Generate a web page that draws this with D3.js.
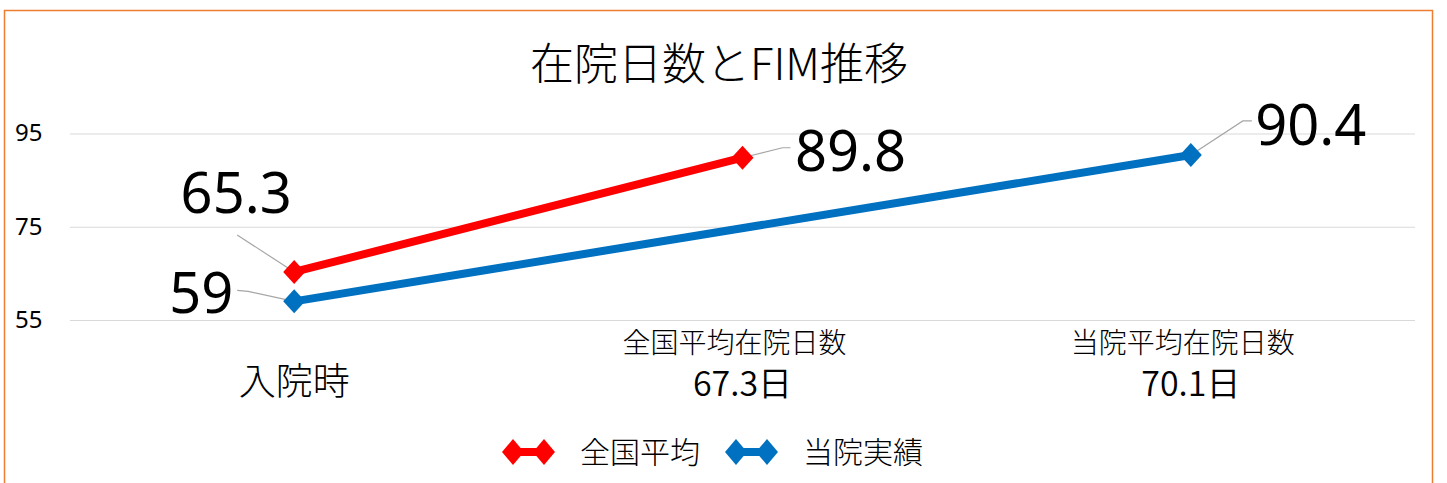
<!DOCTYPE html>
<html>
<head>
<meta charset="utf-8">
<script src="https://cdn.jsdelivr.net/npm/d3@7"></script>
<style>
  body { margin: 0; background: #fff; }
  svg { display: block; }
  text { font-family: "Noto Sans CJK JP", "Noto Sans", sans-serif; fill: #000; }
  .thin { font-weight: 300; }
  .demi { font-weight: 350; }
</style>
</head>
<body>
<svg id="chart" width="1447" height="483"></svg>
<script>
let chart_title = '在院日数とFIM推移';
let categories = ['入院時', '全国平均在院日数', '当院平均在院日数'];
let category_days = ['', '67.3日', '70.1日'];
let y_ticks = [55, 75, 95];

let series_names = ['全国平均', '当院実績'];
let national_values = [65.3, 89.8];        // 入院時, 全国平均在院日数
let hospital_values = [59, null, 90.4];    // 入院時, -, 当院平均在院日数
let series_colors = ['#ff0000', '#0070c0'];

let margin = {left: 70, right: 32, top: 133.5, bottom: 163};
let width = 1447, height = 483;

let svg = d3.select('#chart');

// outer frame
svg.append('rect')
  .attr('x', 4.5).attr('y', 10.5)
  .attr('width', 1428).attr('height', 520)
  .attr('fill', 'none')
  .attr('stroke', '#ed7d31')
  .attr('stroke-width', 1.5);

let x = d3.scaleBand()
  .domain(categories)
  .range([margin.left, width - margin.right]);

let y = d3.scaleLinear()
  .domain([55, 95])
  .range([height - margin.bottom, margin.top]);

// title
svg.append('text')
  .attr('class', 'thin')
  .attr('x', 719).attr('y', 80)
  .attr('text-anchor', 'middle')
  .style('font-size', '44px')
  .text(chart_title);

// grid
let grid = svg.append('g')
  .attr('transform', `translate(${margin.left},0)`)
  .call(d3.axisLeft(y).tickValues(y_ticks).tickSize(-(width - margin.left - margin.right)).tickFormat(''));
grid.select('.domain').remove();
grid.selectAll('line').attr('stroke', '#d9d9d9').attr('stroke-width', 1.2);

// y tick labels
svg.selectAll('.y-label')
  .data(y_ticks)
  .enter().append('text')
  .attr('class', 'y-label')
  .attr('x', 15)
  .attr('y', d => y(d))
  .attr('dy', '0.33em')
  .style('font-family', '"Noto Sans", sans-serif')
  .style('font-size', '24px')
  .text(d => d);

// category labels
let cx = d => x(d) + x.bandwidth() / 2;
svg.append('text')
  .attr('class', 'thin')
  .attr('x', cx(categories[0])).attr('y', 395)
  .attr('text-anchor', 'middle')
  .style('font-size', '37px')
  .text(categories[0]);

[1, 2].forEach(i => {
  svg.append('text')
    .attr('class', 'thin')
    .attr('x', cx(categories[i]) - 8).attr('y', 353)
    .attr('text-anchor', 'middle')
    .style('font-size', '28px')
    .text(categories[i]);
  svg.append('text')
    .attr('class', 'demi')
    .attr('x', cx(categories[i])).attr('y', 396)
    .attr('text-anchor', 'middle')
    .style('font-size', '34px')
    .text(category_days[i]);
});

let series = [
  {name: series_names[0], color: series_colors[0],
   points: national_values.map((v, i) => ({cat: categories[i], v: v}))},
  {name: series_names[1], color: series_colors[1],
   points: hospital_values.map((v, i) => ({cat: categories[i], v: v})).filter(p => p.v !== null)}
];

// label layout: [dx, dy] of label baseline centre, leader path offsets from point
let label_layout = [
  [{dx: -58, dy: -59, leader: [[-57, -37]]},
   {dx: 108, dy: 13, leader: [[40, -10], [48, -10]]}],
  [{dx: -93, dy: 12, leader: [[-46, -10], [-57, -11]]},
   {dx: 120, dy: -10, leader: [[52, -34], [61, -34]]}]
];

let line = d3.line()
  .x(d => cx(d.cat))
  .y(d => y(d.v));

let diamond = (hw, hh) => `M0,${-hh}L${hw},0L0,${hh}L${-hw},0Z`;

series.forEach((s, si) => {
  svg.append('path')
    .datum(s.points)
    .attr('d', line)
    .attr('fill', 'none')
    .attr('stroke', s.color)
    .attr('stroke-width', 8);

  // leader lines
  s.points.forEach((p, pi) => {
    let lay = label_layout[si][pi];
    let px = cx(p.cat), py = y(p.v);
    let pts = [[px, py]].concat(lay.leader.map(o => [px + o[0], py + o[1]]));
    svg.append('path')
      .attr('d', d3.line()(pts))
      .attr('fill', 'none')
      .attr('stroke', '#a6a6a6')
      .attr('stroke-width', 1.2);
  });

  svg.selectAll(`.marker-${si}`)
    .data(s.points)
    .enter().append('path')
    .attr('class', `marker-${si}`)
    .attr('transform', d => `translate(${cx(d.cat)},${y(d.v)})`)
    .attr('d', diamond(11, 12))
    .attr('fill', s.color);

  s.points.forEach((p, pi) => {
    let lay = label_layout[si][pi];
    svg.append('text')
      .attr('x', cx(p.cat) + lay.dx)
      .attr('y', y(p.v) + lay.dy)
      .attr('text-anchor', 'middle')
      .style('font-family', '"Noto Sans", sans-serif')
      .style('font-size', '56px')
      .text(p.v);
  });
});

// legend
let legend = svg.append('g').attr('transform', 'translate(0,452)');
let legend_x = [502, 725];
series.forEach((s, si) => {
  let g = legend.append('g').attr('transform', `translate(${legend_x[si]},0)`);
  g.append('line')
    .attr('x1', 11).attr('x2', 42)
    .attr('stroke', s.color).attr('stroke-width', 8);
  [11, 42].forEach(mx => {
    g.append('path')
      .attr('transform', `translate(${mx},0)`)
      .attr('d', diamond(11, 13))
      .attr('fill', s.color);
  });
  g.append('text')
    .attr('class', 'thin')
    .attr('x', 78).attr('y', 0)
    .attr('dy', '0.36em')
    .style('font-size', '30px')
    .text(s.name);
});
</script>
</body>
</html>
